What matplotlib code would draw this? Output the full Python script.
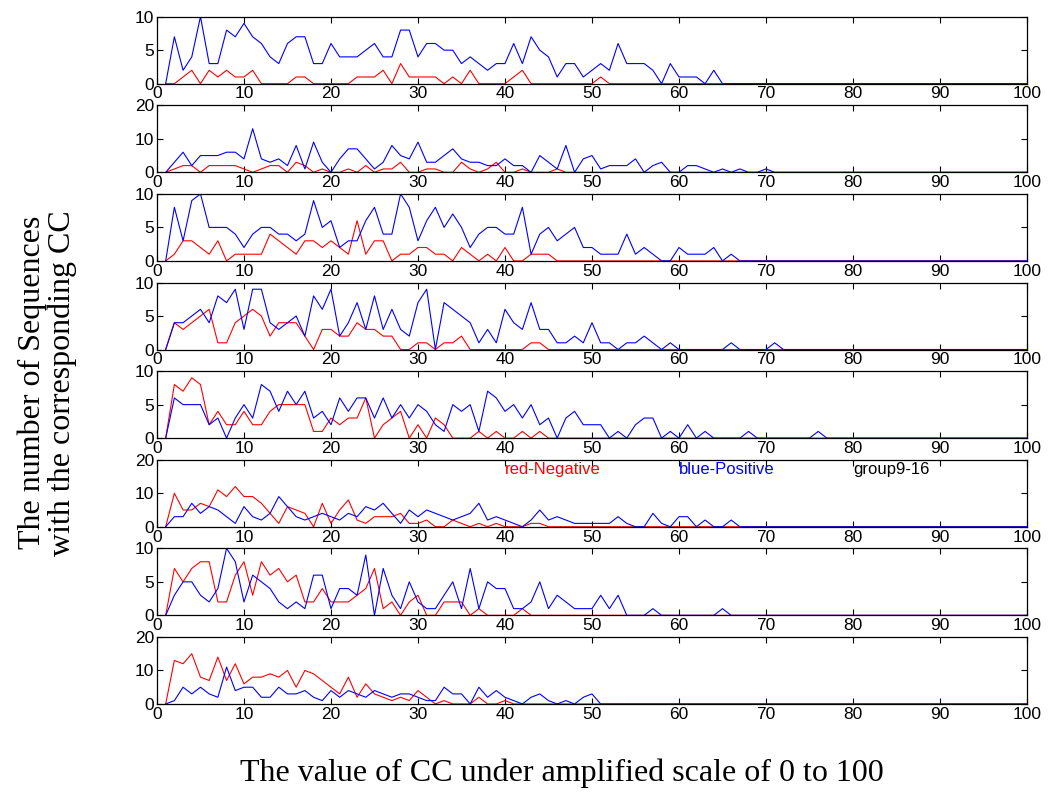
import numpy as np
import matplotlib
matplotlib.use("AGG")
import matplotlib.pyplot as plt

# counts per CC value (x = 1..100), trailing values are zero
b1 = [0,7,2,4,10,3,3,8,7,9, 7,6,4,3,6,7,7,3,3,6, 4,4,4,5,6,4,4,8,8,4,
      6,6,5,5,3,4,3,2,3,3, 6,3,7,5,4,1,3,3,1,2, 3,2,6,3,3,3,2,0,3,1, 1,1,0,2,0]
r1 = [0,0,1,2,0,2,1,2,1,1, 2,0,0,0,0,1,1,0,0,0, 0,0,1,1,1,2,0,3,1,1,
      1,1,0,1,0,2,0,0,0,0, 1,2,0,0,0,0,0,0,0,0, 1,0]
b2 = [0,3,6,2,5,5,5,6,6,4, 13,4,3,4,2,8,1,9,3,0, 4,7,7,4,1,3,8,5,4,9,
      3,3,5,7,4,3,3,2,2,4, 2,2,0,5,3,1,8,0,4,5, 1,2,2,2,4,0,2,3,0,0,
      2,2,1,0,1,0,1,0,0,1, 0]
r2 = [0,1,2,2,0,2,2,2,2,1, 0,1,2,2,0,3,2,0,1,0, 0,1,0,2,0,1,1,3,0,0,
      1,1,0,0,3,1,0,1,3,0, 0,1,0,0,0,1,0]
b3 = [0,8,3,9,10,5,5,5,4,2, 4,5,5,4,4,3,4,9,5,6, 2,3,3,6,8,4,4,10,8,3,
      6,8,5,7,5,2,4,5,5,4, 4,8,1,4,5,3,4,5,2,2, 1,1,1,4,1,2,1,0,0,2,
      1,1,1,2,0,1,0]
r3 = [0,1,3,3,2,1,3,0,1,1, 1,1,4,3,2,1,3,3,2,3, 2,1,6,1,3,3,0,1,1,2,
      2,1,1,0,2,1,0,1,0,2, 0,0,1,1,1,0]
b4 = [0,4,4,5,6,4,8,7,9,3, 9,9,4,3,4,5,2,8,6,9, 2,4,7,3,8,3,6,3,2,7,
      9,0,7,6,5,4,1,3,1,6, 4,3,7,3,3,1,1,2,1,4, 1,1,0,1,1,2,1,0,1,0,
      0,0,0,0,0,1,0,0,0,0, 1,0]
r4 = [0,4,3,4,5,6,1,1,4,5, 6,5,2,4,4,4,2,0,3,3, 2,2,4,3,3,2,2,0,0,1,
      1,0,1,1,2,0,0,0,0,0, 0,0,1,1,0]
b5 = [0,6,5,5,5,2,3,0,3,5, 3,8,7,4,7,5,7,3,4,2, 6,4,6,6,3,6,3,5,3,5,
      4,2,1,5,4,5,1,7,6,4, 5,3,5,2,3,0,3,4,2,2, 2,0,1,0,2,3,3,0,1,0,
      2,0,1,0,0,0,0,1,0,0, 0,0,0,0,0,1,0]
r5 = [0,8,7,9,8,2,4,2,2,4, 2,2,4,5,5,5,5,1,1,3, 2,3,3,6,0,2,3,4,0,2,
      0,3,2,0,0,0,1,0,1,0, 0,1,0,1,0]
b6 = [0,3,3,7,4,6,5,3,1,6, 3,2,4,9,6,3,2,3,4,3, 2,4,3,6,5,7,4,1,5,3,
      5,4,3,2,3,4,7,2,3,2, 1,0,2,5,2,3,2,1,1,1, 1,1,3,1,0,0,4,1,0,3,
      3,0,2,0,0,2,0]
r6 = [0,10,5,5,7,6,11,9,12,9, 9,7,4,1,6,5,4,0,7,1, 5,8,2,1,3,3,3,4,1,1,
      2,0,0,2,1,0,1,0,1,0, 0,0,1,1,0]
b7 = [0,3,5,5,3,2,4,10,8,2, 6,5,4,2,1,2,1,6,6,1, 4,4,3,9,0,7,3,1,5,2,
      1,1,3,5,1,7,1,5,4,4, 1,1,2,5,1,3,2,1,1,1, 3,1,3,0,0,0,1,0,0,0,
      0,0,0,0,1,0]
r7 = [0,7,5,7,8,8,2,2,6,8, 3,8,6,7,5,6,2,2,4,2, 2,2,3,4,7,1,2,0,2,3,
      0,0,2,2,2,0,1,0,0,0, 0,1,0]
b8 = [0,1,5,3,5,3,2,11,4,5, 5,2,2,5,3,3,4,2,1,4, 2,4,3,2,4,3,2,3,3,2,
      1,1,5,3,3,0,5,2,4,2, 1,0,2,3,1,0,1,0,2,3, 0]
r8 = [0,13,12,15,8,7,14,7,12,6, 8,8,9,8,10,5,10,9,7,5, 3,8,2,6,3,2,1,2,1,4,
      2,0,1,0,0,0,2,0,0,1, 0]

blue_sets = [b1, b2, b3, b4, b5, b6, b7, b8]
red_sets = [r1, r2, r3, r4, r5, r6, r7, r8]
y_max = [10, 20, 10, 10, 10, 20, 10, 20]
x_ticks = list(range(0, 101, 10))
legend_texts = [("red-Negative", 40, "red"), ("blue-Positive", 60, "blue"), ("group9-16", 80, "black")]

def pad(v):
    return v + [0] * (100 - len(v))

x = np.arange(1, 101)

plt.rcParams['font.family'] = ['Liberation Sans', 'DejaVu Sans']
fig = plt.figure(figsize=(10.5, 7.94), dpi=100)

left, width = 0.1495, 0.8286
height = 0.0844
bottom0 = 0.1134
step = 0.1116

for i in range(8):
    ax = fig.add_axes([left, bottom0 + (7 - i) * step, width, height])
    ax.plot(x, pad(red_sets[i]), color='red', linewidth=0.8)
    ax.plot(x, pad(blue_sets[i]), color='blue', linewidth=0.8)
    ax.set_xlim(0, 100)
    ax.set_ylim(0, y_max[i])
    ax.set_xticks(x_ticks)
    ax.set_yticks([0, y_max[i] / 2, y_max[i]])
    ax.set_yticklabels(["0", str(y_max[i] // 2), str(y_max[i])])
    ax.tick_params(direction='in', top=True, right=True, length=4,
                   labelsize=12.5, pad=2)
    for s in ax.spines.values():
        s.set_linewidth(0.9)
    if i == 5:
        for (txt, xp, c) in legend_texts:
            ax.text(xp, 17.2, txt, color=c, fontsize=12, ha='left', va='center')

fig.text(0.535, 0.026, "The value of CC under amplified scale of 0 to 100",
         family='Liberation Serif', fontsize=23, ha='center', va='center')
fig.text(0.045, 0.518, "The number of Sequences\nwith the corresponding CC",
         family='Liberation Serif', fontsize=23, ha='center', va='center',
         rotation=90, multialignment='center', linespacing=1.05)

plt.savefig("out.png", format="png")
